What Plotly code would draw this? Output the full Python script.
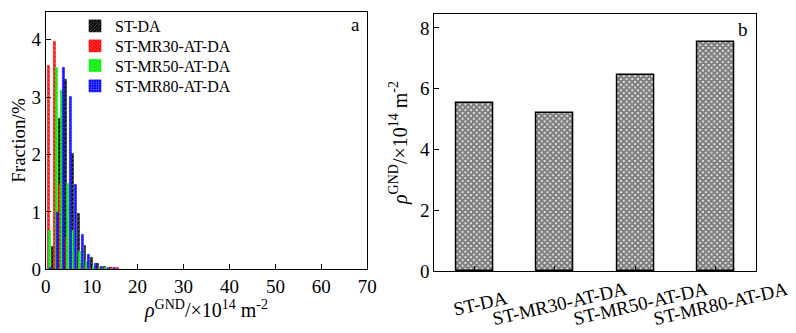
import plotly.graph_objects as go

# ---- Panel a: distribution of GND density ----
series_names = ["ST-DA", "ST-MR30-AT-DA", "ST-MR50-AT-DA", "ST-MR80-AT-DA"]
series_colors = ["black", "red", "#00ee00", "blue"]
series_patterns = ["/", "\\", "x", "+"]

x_st_da = [1.52, 3.05, 4.37, 5.8, 7.2, 8.6, 10.0, 11.4, 12.8, 14.2]
y_st_da = [0.39, 2.62, 3.30, 2.02, 0.97, 0.42, 0.20, 0.09, 0.04, 0.02]

x_mr30 = [0.61, 1.96, 3.05, 4.5, 5.9, 7.3, 8.7, 10.1, 11.5, 12.9, 14.3, 15.7]
y_mr30 = [3.55, 3.97, 1.50, 0.55, 0.20, 0.10, 0.05, 0.03, 0.02, 0.02, 0.02, 0.02]

x_mr50 = [0.9, 2.4, 3.55, 4.7, 5.95, 7.5, 8.9, 10.3, 11.7, 13.1]
y_mr50 = [0.67, 3.52, 3.12, 1.50, 0.67, 0.31, 0.13, 0.05, 0.03, 0.02]

x_mr80 = [1.1, 2.53, 3.99, 5.36, 6.6, 8.07, 9.4, 10.8, 12.2, 13.6, 15.0]
y_mr80 = [0.02, 0.98, 3.52, 3.01, 1.47, 0.60, 0.25, 0.10, 0.05, 0.03, 0.02]

xa_ticks = [0, 10, 20, 30, 40, 50, 60, 70]
ya_ticks = [0, 1, 2, 3, 4]

# ---- Panel b: mean GND density ----
categories = ["ST-DA", "ST-MR30-AT-DA", "ST-MR50-AT-DA", "ST-MR80-AT-DA"]
mean_rho = [5.52, 5.20, 6.45, 7.55]
yb_ticks = [0, 2, 4, 6, 8]

FONT = "Liberation Serif"
rho_title = "<i>ρ</i><sup>GND</sup>/×10<sup>14</sup> m<sup>-2</sup>"

# the page body has an 8 px margin, so the figure is drawn at (8, 8)
W, H, OFF = 796, 333, 8
FW, FH = W - OFF, H - OFF


def px_x(px):
    return (px - OFF) / FW


def px_y(py):
    return (H - py) / FH


fig = go.Figure()

hist_x = [x_st_da, x_mr30, x_mr50, x_mr80]
hist_y = [y_st_da, y_mr30, y_mr50, y_mr80]
legend_ids = ["legend", "legend2", "legend3", "legend4"]
for name, xs, ys, col, pat, lg in zip(series_names, hist_x, hist_y, series_colors,
                                      series_patterns, legend_ids):
    fig.add_trace(go.Bar(
        x=xs, y=ys, name=name, width=0.42,
        marker=dict(color=col, line=dict(color=col, width=0.6),
                    pattern=dict(shape=pat, fgcolor="white", size=3, solidity=0.3)),
        xaxis="x", yaxis="y", showlegend=True, legend=lg,
    ))

fig.add_trace(go.Bar(
    x=categories, y=mean_rho, width=0.46, showlegend=False,
    marker=dict(color="white", line=dict(color="black", width=1.5),
                pattern=dict(shape="x", fgcolor="black", bgcolor="white", size=4, solidity=0.8)),
    xaxis="x2", yaxis="y2",
))

axis_common = dict(showline=True, linecolor="black", linewidth=1, mirror=True,
                   ticks="inside", ticklen=5, tickcolor="black", showgrid=False,
                   zeroline=False, automargin=False,
                   tickfont=dict(family=FONT, size=19, color="black"))

legend_rows = [26, 46, 65.5, 86]
legend_common = dict(x=px_x(75), xanchor="left", yanchor="middle",
                     bgcolor="rgba(0,0,0,0)", font=dict(family=FONT, size=16, color="black"),
                     itemwidth=30)

fig.update_layout(
    width=FW, height=FH,
    margin=dict(l=0, r=0, t=0, b=0, autoexpand=False),
    paper_bgcolor="white", plot_bgcolor="white",
    barmode="overlay", bargap=0,
    font=dict(family=FONT, color="black"),
    xaxis=dict(domain=[px_x(45.7), px_x(367.3)], range=[0, 70], tickvals=xa_ticks, anchor="y",
               title=dict(text=rho_title, font=dict(family=FONT, size=20), standoff=0),
               **axis_common),
    yaxis=dict(domain=[px_y(269.3), px_y(11.7)], range=[0, 4.49], tickvals=ya_ticks, anchor="x",
               title=dict(text="Fraction/%", font=dict(family=FONT, size=19), standoff=4),
               **axis_common),
    xaxis2=dict(domain=[px_x(434.3), px_x(756)], range=[-0.5, 3.5], anchor="y2",
                showticklabels=False, **{k: v for k, v in axis_common.items() if k != "tickfont"}),
    yaxis2=dict(domain=[px_y(271), px_y(14)], range=[0, 8.46], tickvals=yb_ticks, anchor="x2",
                title=dict(text=rho_title, font=dict(family=FONT, size=20), standoff=7),
                **axis_common),
    legend=dict(y=px_y(legend_rows[0]), **legend_common),
    legend2=dict(y=px_y(legend_rows[1]), **legend_common),
    legend3=dict(y=px_y(legend_rows[2]), **legend_common),
    legend4=dict(y=px_y(legend_rows[3]), **legend_common),
)

# rotated category labels for panel b, centred under each bar
for cat in categories:
    fig.add_annotation(x=cat, xref="x2", y=px_y(303), yref="paper", text=cat,
                       showarrow=False, textangle=-13, xshift=5,
                       xanchor="center", yanchor="middle",
                       font=dict(family=FONT, size=19, color="black"))

fig.add_annotation(x=px_x(355), y=px_y(25), xref="paper", yref="paper", text="a", showarrow=False,
                   xanchor="center", yanchor="middle",
                   font=dict(family=FONT, size=19, color="black"))
fig.add_annotation(x=px_x(743), y=px_y(29), xref="paper", yref="paper", text="b", showarrow=False,
                   xanchor="center", yanchor="middle",
                   font=dict(family=FONT, size=19, color="black"))

fig.write_html("out.html")
